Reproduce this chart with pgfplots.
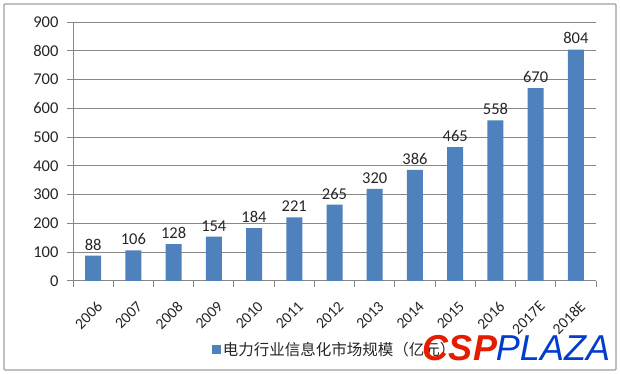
\documentclass[border=0pt]{standalone}
\usepackage{pgfplots}
\pgfplotsset{compat=1.18}
\usepackage{fontspec}
\setmainfont{Carlito}
\newfontfamily\cjk{Noto Sans CJK SC}
\newfontfamily\wmA{Liberation Sans}[BoldItalicFont={* Bold Italic}]
\definecolor{barblue}{HTML}{4F81BD}
\definecolor{gridgray}{HTML}{878787}
\definecolor{txt}{HTML}{262626}
\begin{document}
\begin{tikzpicture}[x=1pt,y=1pt]
\path[use as bounding box] (-73,-93) rectangle (547,281);
\draw[draw=gridgray!80,line width=1.2pt,rounded corners=1pt,fill=white] (-69,-89) rectangle (543,277);
\begin{axis}[
  at={(0,0)}, anchor=south west,
  scale only axis, width=523pt, height=259pt,
  xmin=-0.5, xmax=12.5, ymin=0, ymax=900,
  ytick={0,100,...,900},
  xtick={0,...,12},
  xticklabels={2006,2007,2008,2009,2010,2011,2012,2013,2014,2015,2016,2017E,2018E},
  minor xtick={-0.5,0.5,...,12.5},
  major x tick style={draw=none},
  minor x tick style={draw=gridgray,line width=1pt},
  minor tick length=6pt,
  major tick length=6pt,
  tick align=outside,
  ytick pos=left, xtick pos=bottom,
  y tick style={draw=gridgray,line width=1pt},
  ymajorgrids,
  grid style={draw=gridgray,line width=1pt},
  axis x line*=bottom, axis y line*=left,
  axis line style={draw=gridgray,line width=1pt,-},
  tick label style={font=\fontsize{16.5}{18}\selectfont, text=txt},
  xticklabel style={font=\fontsize{15.5}{17}\selectfont, rotate=45, anchor=north east, xshift=-4pt, yshift=-8pt},
  yticklabel style={xshift=-5pt},
  /pgf/number format/assume math mode=true,
  legend style={at={(0.5,-0.266)}, anchor=center, draw=none, fill=none,
    font=\cjk\fontsize{15.5}{17}\selectfont, text=txt, legend columns=1},
  legend image code/.code={\fill[barblue] (0pt,-4.5pt) rectangle (9pt,4.5pt);},
  nodes near coords,
  every node near coord/.append style={font=\fontsize{16.5}{18}\selectfont, text=txt, yshift=2pt},
  clip=false,
]
\addplot[ybar, bar width=16pt, fill=barblue, draw=none] coordinates {
(0,88) (1,106) (2,128) (3,154) (4,184) (5,221) (6,265) (7,320) (8,386) (9,465) (10,558) (11,670) (12,804)
};
\addlegendentry{电力行业信息化市场规模（亿元）}
\end{axis}
\node[font=\wmA\bfseries\itshape\fontsize{36}{36}\selectfont, text=red!75!orange!90!black, inner sep=0] at (387,-67) {CSP};
\node[font=\wmA\itshape\fontsize{36}{36}\selectfont, text=blue!70!cyan!80!black, inner sep=0] at (480,-67) {PLAZA};
\end{tikzpicture}
\end{document}
